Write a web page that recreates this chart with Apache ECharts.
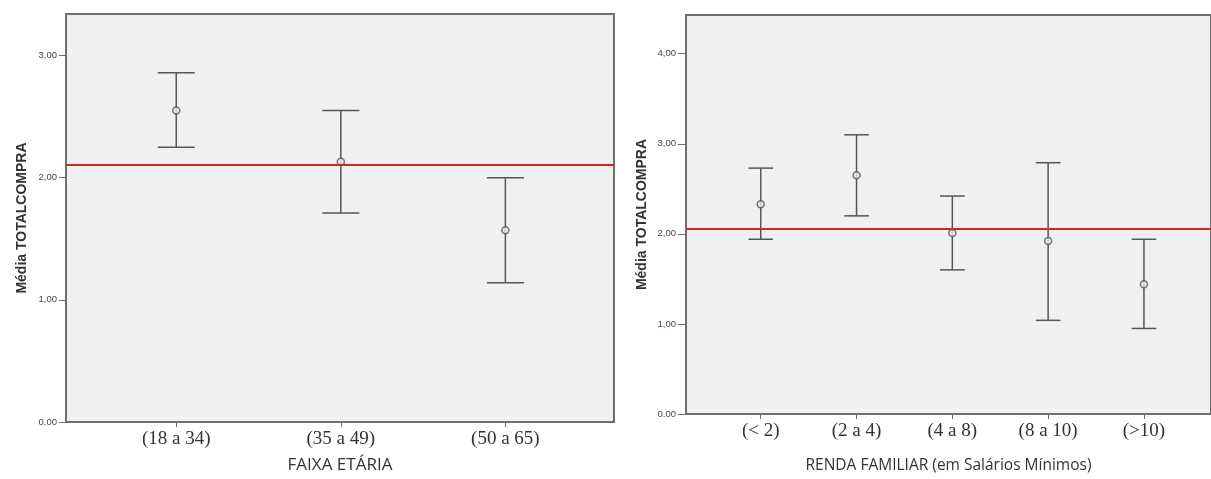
<!DOCTYPE html>
<html>
<head>
<meta charset="utf-8">
<script src="https://cdn.jsdelivr.net/npm/echarts@6/dist/echarts.min.js"></script>
<style>
  html, body { margin: 0; padding: 0; background: #fff; }
  #chart { width: 1211px; height: 479px; }
</style>
</head>
<body>
<div id="chart"></div>
<script>
// left panel: FAIXA ETÁRIA
var ageCats = ['(18 a 34)', '(35 a 49)', '(50 a 65)'];
var ageMean = [2.55, 2.13, 1.57];
var ageLow  = [2.25, 1.71, 1.14];
var ageHigh = [2.86, 2.55, 2.00];
var ageRef = 2.11;

// right panel: RENDA FAMILIAR
var incCats = ['(< 2)', '(2 a 4)', '(4 a 8)', '(8 a 10)', '(>10)'];
var incMean = [2.33, 2.65, 2.01, 1.92, 1.44];
var incLow  = [1.94, 2.20, 1.60, 1.04, 0.95];
var incHigh = [2.73, 3.10, 2.42, 2.79, 1.94];
var incRef = 2.06;

var yTicksLeft = [0, 1, 2, 3];
var yTicksRight = [0, 1, 2, 3, 4];

var axisColor = '#6e6e6e';
var barColor = '#555555';

function yLabel(v) {
    if (v === 0) return '0.00';
    return v.toFixed(2).replace('.', ',');
}

function errorBarRender(capHalf) {
    return function (params, api) {
        var x = api.value(0);
        var lo = api.coord([x, api.value(1)]);
        var hi = api.coord([x, api.value(2)]);
        var st = { stroke: barColor, lineWidth: 1.5 };
        return {
            type: 'group',
            children: [
                { type: 'line', shape: { x1: hi[0], y1: hi[1], x2: lo[0], y2: lo[1] }, style: st },
                { type: 'line', shape: { x1: hi[0] - capHalf, y1: hi[1], x2: hi[0] + capHalf, y2: hi[1] }, style: st },
                { type: 'line', shape: { x1: lo[0] - capHalf, y1: lo[1], x2: lo[0] + capHalf, y2: lo[1] }, style: st }
            ]
        };
    };
}

function idxOf(arr) {
    var r = [];
    for (var i = 0; i < arr.length; i++) r.push(i);
    return r;
}

function xAxisOf(idx, cats, min, max, name, nameGap, nameSize) {
    var vals = idxOf(cats);
    return {
        type: 'value', gridIndex: idx, min: min, max: max,
        name: name, nameLocation: 'middle', nameGap: nameGap,
        nameTextStyle: { fontFamily: 'Open Sans', fontSize: nameSize, color: '#333' },
        axisLine: { show: true, onZero: false, lineStyle: { color: axisColor, width: 2 } },
        axisTick: { show: true, customValues: vals, length: 5, lineStyle: { color: axisColor } },
        axisLabel: {
            customValues: vals, margin: 8,
            fontFamily: 'Liberation Serif', fontSize: 19, color: '#333',
            formatter: function (v) { return cats[Math.round(v)]; }
        },
        splitLine: { show: false }
    };
}

function yAxisOf(idx, max, ticks, tickLen, margin) {
    return {
        type: 'value', gridIndex: idx, min: 0, max: max,
        name: 'Média TOTALCOMPRA', nameLocation: 'middle', nameGap: 37,
        nameTextStyle: { fontFamily: 'Liberation Sans', fontWeight: 'bold', fontSize: 14, color: '#333' },
        axisLine: { show: true, onZero: false, lineStyle: { color: axisColor, width: 2 } },
        axisTick: { show: true, customValues: ticks, length: tickLen, lineStyle: { color: axisColor } },
        axisLabel: {
            customValues: ticks, margin: margin,
            fontFamily: 'Liberation Sans', fontSize: 9.5, color: '#444',
            formatter: yLabel
        },
        splitLine: { show: false }
    };
}

function pts(means) {
    return means.map(function (m, i) { return [i, m]; });
}
function bars(low, high) {
    return low.map(function (l, i) { return [i, l, high[i]]; });
}

var refLine = function (v) {
    return {
        silent: true, symbol: 'none', label: { show: false },
        lineStyle: { color: '#cc2a2a', width: 2, type: 'solid' },
        data: [{ yAxis: v }]
    };
};

var chart = echarts.init(document.getElementById('chart'));
chart.setOption({
    animation: false,
    backgroundColor: '#ffffff',
    grid: [
        { left: 66, top: 14, width: 548, height: 412, show: true, backgroundColor: '#f0f0f0', borderColor: axisColor, borderWidth: 2 },
        { left: 686, top: 15, right: -2, height: 400, show: true, backgroundColor: '#f0f0f0', borderColor: axisColor, borderWidth: 2 }
    ],
    xAxis: [
        xAxisOf(0, ageCats, -0.67, 2.66, 'FAIXA ETÁRIA', 35, 17),
        xAxisOf(1, incCats, -0.78, 4.70, 'RENDA FAMILIAR (em Salários Mínimos)', 44, 15.5)
    ],
    yAxis: [
        yAxisOf(0, 3.34, yTicksLeft, 7, 9),
        yAxisOf(1, 4.43, yTicksRight, 8, 10)
    ],
    series: [
        {
            type: 'custom', xAxisIndex: 0, yAxisIndex: 0,
            renderItem: errorBarRender(18.5),
            encode: { x: 0, y: [1, 2] },
            data: bars(ageLow, ageHigh), z: 2
        },
        {
            type: 'scatter', xAxisIndex: 0, yAxisIndex: 0,
            symbol: 'circle', symbolSize: 7,
            itemStyle: { color: '#e8e8e8', borderColor: barColor, borderWidth: 1.5 },
            data: pts(ageMean), z: 3,
            markLine: refLine(ageRef)
        },
        {
            type: 'custom', xAxisIndex: 1, yAxisIndex: 1,
            renderItem: errorBarRender(12.3),
            encode: { x: 0, y: [1, 2] },
            data: bars(incLow, incHigh), z: 2
        },
        {
            type: 'scatter', xAxisIndex: 1, yAxisIndex: 1,
            symbol: 'circle', symbolSize: 7,
            itemStyle: { color: '#e8e8e8', borderColor: barColor, borderWidth: 1.5 },
            data: pts(incMean), z: 3,
            markLine: refLine(incRef)
        }
    ]
});
</script>
</body>
</html>
